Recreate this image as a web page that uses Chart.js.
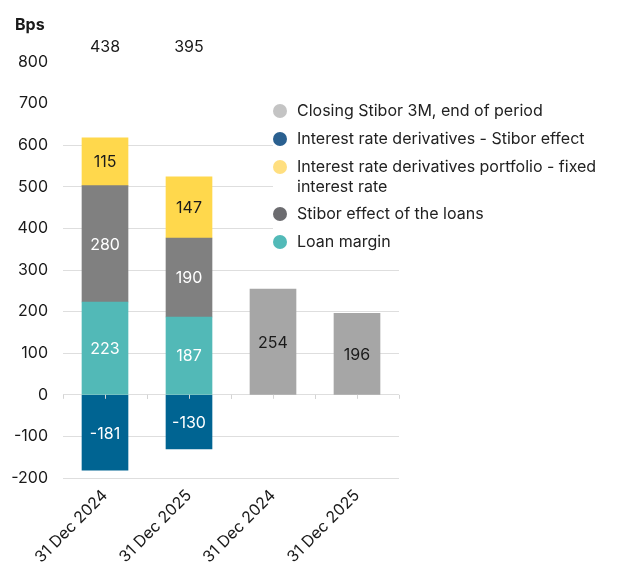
<!DOCTYPE html>
<html>
<head>
<meta charset="utf-8">
<script src="https://cdn.jsdelivr.net/npm/chart.js@4/dist/chart.umd.min.js"></script>
<style>
  html, body { margin: 0; padding: 0; background: #ffffff; }
  #wrap { width: 619px; height: 570px; position: relative; }
</style>
</head>
<body>
<div id="wrap"><canvas id="c" width="619" height="570"></canvas></div>
<script>
// Categories along the x axis
const categories = ['31 Dec 2024', '31 Dec 2025', '31 Dec 2024', '31 Dec 2025'];

// Stacked components (Bps)
const loanMargin    = [223, 187, null, null];
const stiborLoans   = [280, 190, null, null];
const irdFixed      = [115, 147, null, null];
const irdStibor     = [-181, -130, null, null];
const closingStibor = [null, null, 254, 196];

// Totals printed above the stacked bars
const totals = [438, 395, null, null];

// Value axis
const yMin = -200;
const yMax = 800;
const yStep = 100;
const gridTop = 600;

const FONT = 'Inter, "Noto Sans", sans-serif';
const TEXT = '#1a1a1a';

const series = [
  { label: 'Loan margin', data: loanMargin, color: '#52b9b7', legendColor: '#52bab8', text: '#ffffff' },
  { label: 'Stibor effect of the loans', data: stiborLoans, color: '#808080', legendColor: '#6c6c70', text: '#ffffff' },
  { label: ['Interest rate derivatives portfolio - fixed', 'interest rate'], data: irdFixed, color: '#ffd84c', legendColor: '#ffdf80', text: TEXT },
  { label: 'Interest rate derivatives - Stibor effect', data: irdStibor, color: '#006492', legendColor: '#2a6090', text: '#ffffff' },
  { label: 'Closing Stibor 3M, end of period', data: closingStibor, color: '#a6a6a6', legendColor: '#c4c4c4', text: TEXT }
];

// Legend is listed top to bottom in this order
const legendOrder = [4, 3, 2, 1, 0];

const overlay = {
  id: 'overlay',
  afterDatasetsDraw(chart) {
    const ctx = chart.ctx;
    const x = chart.scales.x, y = chart.scales.y;
    ctx.save();
    // small tick marks along the zero line
    const y0 = y.getPixelForValue(0);
    ctx.strokeStyle = '#d4d4d4';
    ctx.lineWidth = 1;
    const step = x.getPixelForValue(1) - x.getPixelForValue(0);
    for (let i = 0; i < categories.length; i++) {
      const cx = x.getPixelForValue(i);
      [cx - step / 2, cx, cx + step / 2].forEach(px => {
        ctx.beginPath();
        ctx.moveTo(Math.round(px) + 0.5, y0);
        ctx.lineTo(Math.round(px) + 0.5, y0 + 4);
        ctx.stroke();
      });
    }
    // values inside each segment
    ctx.font = '16px ' + FONT;
    ctx.textAlign = 'center';
    ctx.textBaseline = 'middle';
    chart.data.datasets.forEach((ds, di) => {
      const meta = chart.getDatasetMeta(di);
      meta.data.forEach((el, i) => {
        const v = ds.data[i];
        if (v === null || v === undefined) return;
        const p = el.getProps(['x', 'y', 'base'], true);
        ctx.fillStyle = series[di].text;
        ctx.fillText(String(v), p.x, (p.y + p.base) / 2 + 1);
      });
    });
    // totals above the chart
    ctx.fillStyle = TEXT;
    totals.forEach((t, i) => {
      if (t === null) return;
      ctx.fillText(String(t), x.getPixelForValue(i), chart.chartArea.top - 15);
    });
    // unit label
    ctx.font = 'bold 16px ' + FONT;
    ctx.textAlign = 'left';
    ctx.fillText('Bps', 15, 25);
    ctx.restore();
  },
  afterDraw(chart) {
    const ctx = chart.ctx;
    ctx.save();
    ctx.fillStyle = '#ffffff';
    ctx.fillRect(273, 95, 346, 160);
    ctx.font = '16px ' + FONT;
    ctx.textAlign = 'left';
    ctx.textBaseline = 'middle';
    let cy = 111;
    legendOrder.forEach(si => {
      const s = series[si];
      ctx.fillStyle = s.legendColor;
      ctx.beginPath();
      ctx.arc(280, cy, 7, 0, Math.PI * 2);
      ctx.fill();
      ctx.fillStyle = '#222222';
      const lines = Array.isArray(s.label) ? s.label : [s.label];
      lines.forEach((ln, li) => ctx.fillText(ln, 297, cy + li * 20));
      cy += 28 + (lines.length - 1) * 19;
    });
    ctx.restore();
  }
};

new Chart(document.getElementById('c'), {
  type: 'bar',
  data: {
    labels: categories,
    datasets: series.map(s => ({
      label: Array.isArray(s.label) ? s.label.join(' ') : s.label,
      data: s.data,
      backgroundColor: s.color,
      borderWidth: 0,
      barThickness: 46
    }))
  },
  options: {
    responsive: false,
    animation: false,
    layout: { padding: { top: 62, right: 220, left: 0, bottom: 0 } },
    plugins: { legend: { display: false }, tooltip: { enabled: false } },
    scales: {
      x: {
        stacked: true,
        grid: { display: false, drawTicks: false },
        border: { display: false },
        ticks: {
          color: TEXT,
          font: { family: FONT, size: 16 },
          maxRotation: 45, minRotation: 45,
          padding: 8
        },
        afterFit(scale) { scale.height = 92; }
      },
      y: {
        stacked: true,
        min: yMin, max: yMax,
        border: { display: false },
        grid: {
          drawTicks: false,
          color: ctx => (ctx.tick && ctx.tick.value > gridTop) ? 'rgba(0,0,0,0)' : '#dedede',
          lineWidth: 1
        },
        ticks: {
          stepSize: yStep,
          color: TEXT,
          font: { family: FONT, size: 16 },
          padding: 15
        },
        afterFit(scale) { scale.width = 63; }
      }
    }
  },
  plugins: [overlay]
});
</script>
</body>
</html>
